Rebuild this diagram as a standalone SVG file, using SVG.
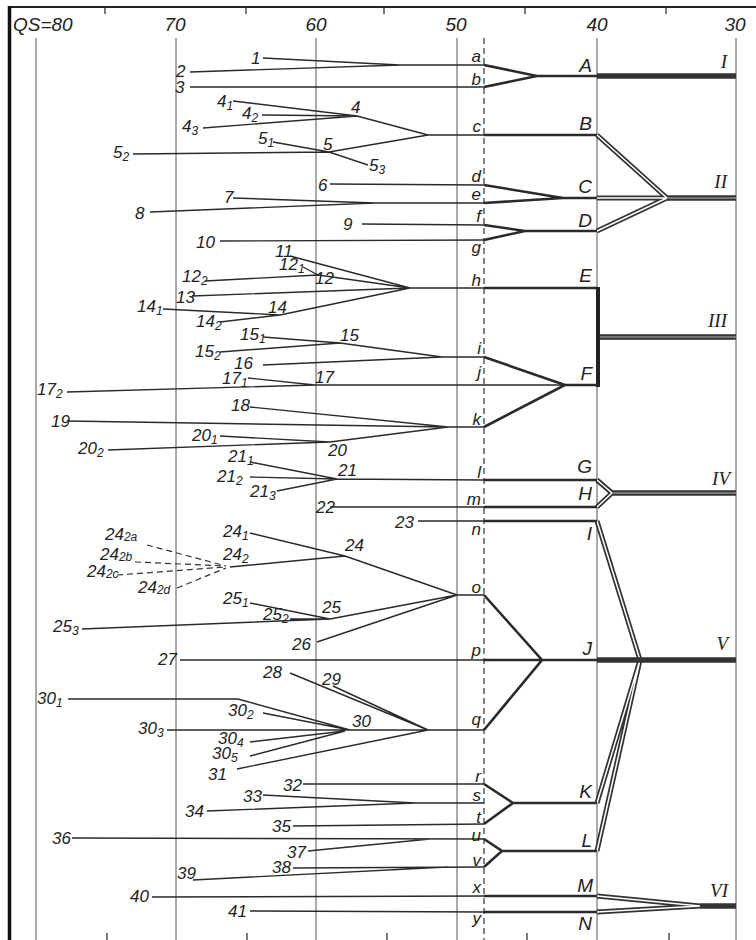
<svg xmlns="http://www.w3.org/2000/svg" width="756" height="940" viewBox="0 0 756 940">
<style>
text{font-family:"Liberation Sans","DejaVu Sans",sans-serif;font-style:italic;fill:#222}
.n{font-size:17px}
.lc{font-size:17px;text-anchor:end}
.uc{font-size:19px;text-anchor:end}
.rn{font-family:"Liberation Serif","DejaVu Serif",serif;font-size:19px;text-anchor:end}
.ax{font-size:19px;text-anchor:middle}
.s{font-size:12px}
.grid{stroke:#555;stroke-width:1;fill:none}
.ln{stroke:#2a2a2a;stroke-width:1.4;fill:none}
.th{stroke:#2a2a2a;stroke-width:2.6;fill:none}
.dl{stroke:#333;stroke-width:5;fill:none}
.dli{stroke:#fff;stroke-width:1.5;fill:none}
.hv{stroke:#333;stroke-width:5.5;fill:none}
.hvi{stroke:#bbb;stroke-width:1;fill:none}
.ds{stroke:#333;stroke-width:1.2;stroke-dasharray:6 4;fill:none}
</style>

<g id="frame">
<line x1="8" y1="7" x2="756" y2="7" stroke="#222" stroke-width="2"/>
<line x1="9.5" y1="6" x2="9.5" y2="940" stroke="#111" stroke-width="3.5"/>
<path d="M105 7V14M246 7V14M384 7V14M525 7V14M666 7V14M107 933V940M247 933V940M387 933V940M527 933V940M669 933V940" stroke="#333" stroke-width="1.3"/>
<path class="grid" d="M36 38V940M176 38V940M316 38V940M457 38V940M597 38V940M736 38V940"/>
<line class="ds" x1="484" y1="38" x2="484" y2="940"/>
<text x="13" y="31" style="font-size:19px">QS=80</text>
<text class="ax" x="175" y="31">70</text>
<text class="ax" x="316" y="31">60</text>
<text class="ax" x="456" y="31">50</text>
<text class="ax" x="597" y="31">40</text>
<text class="ax" x="735" y="31">30</text>
</g>

<g id="connectors">
<path class="dl" d="M597 135L667 198M597 198H667M597 231L667 198M597 480L612 493M597 507L612 493M597 521L640 660M597 803L640 660M597 851L640 660M597 896L700 906M597 912L700 906"/>
<path class="dli" d="M597 135L667 198M597 198H667M597 231L667 198M597 480L612 493M597 507L612 493M597 521L640 660M597 803L640 660M597 851L640 660M597 896L700 906M597 912L700 906"/>
<path class="hv" d="M597 76H736M667 198H736M598 337H736M612 493H736M597 660H736M700 906H736"/>
<path class="hvi" d="M667 198H736M598 337H736M612 493H736"/>
<line x1="598" y1="287" x2="598" y2="387" stroke="#222" stroke-width="4"/>
<path class="th" d="M484 65L537 76L484 87M537 76H597M484 135H597M484 185L563 198L484 203M563 198H597M484 225L525 231L484 240M525 231H597M484 288H597M484 357L565 385L484 427M565 385H598M484 480H597M484 507H597M484 521H597M484 595L542 660L484 730M484 660H597M484 784L513 803L484 824M513 803H597M484 839L502 851L484 867M502 851H597M484 896H597M484 912H597"/>
<path class="ln" d="M263 58L400 65M190 72L400 65M400 65H484M190 87H484"/>
<path class="ln" d="M233 101L357 116M262 115L357 116M203 128L357 116M357 116L428 135M273 142L329 152L368 165M133 154L329 152M329 152L428 135M428 135H484"/>
<path class="ln" d="M330 184L484 185M233 198L375 203M150 212L375 203M375 203H484M362 224L484 225M220 241L484 240"/>
<path class="ln" d="M290 256L410 288M303 267L318 275M205 281L318 275M318 275L410 288M192 296L410 288M163 309L280 315M220 322L280 315M280 315L410 288M410 288H484"/>
<path class="ln" d="M263 337L340 343M220 352L340 343M340 343L442 357M263 365L442 357M442 357H484M248 378L315 385M67 392L315 385M315 385H565M250 407L448 427M67 421L448 427M220 436L330 442M108 450L330 442M330 442L448 427M448 427H484"/>
<path class="ln" d="M250 462L337 479M250 477L337 479M277 491L337 479M337 479L484 480M330 507H484M418 521H484"/>
<path class="ln" d="M250 533L345 556M230 567L345 556M345 556L457 595M250 603L330 619M290 619L330 619M82 629L330 619M330 619L457 595M317 642L457 595M457 595H484M180 660H484"/>
<path class="ds" d="M147 545L226 566M135 562L226 566M117 575L226 567M177 588L226 568"/>
<path class="ln" d="M290 673L428 730M333 686L428 730M68 699H238L350 730M263 713L350 730M167 730H484M250 742L345 731M250 756L345 731M237 769L428 730"/>
<path class="ln" d="M303 784H484M263 795L415 803M207 811L415 803M415 803H484M293 826L484 824M72 838L484 839M308 851L430 839M293 868L484 867M193 880L447 867M152 897L484 896M250 911L484 912"/>
</g>

<g id="sources">
<text class="n" x="251" y="64">1</text>
<text class="n" x="176" y="77">2</text>
<text class="n" x="175" y="93">3</text>
<text class="n" x="217" y="107">4<tspan class="s" dy="3">1</tspan></text>
<text class="n" x="242" y="119">4<tspan class="s" dy="3">2</tspan></text>
<text class="n" x="182" y="132">4<tspan class="s" dy="3">3</tspan></text>
<text class="n" x="351" y="113">4</text>
<text class="n" x="258" y="144">5<tspan class="s" dy="3">1</tspan></text>
<text class="n" x="323" y="150">5</text>
<text class="n" x="113" y="158">5<tspan class="s" dy="3">2</tspan></text>
<text class="n" x="369" y="171">5<tspan class="s" dy="3">3</tspan></text>
<text class="n" x="318" y="191">6</text>
<text class="n" x="224" y="203">7</text>
<text class="n" x="135" y="219">8</text>
<text class="n" x="343" y="230">9</text>
<text class="n" x="196" y="248">10</text>
<text class="n" x="275" y="257">11</text>
<text class="n" x="279" y="270">12<tspan class="s" dy="3">1</tspan></text>
<text class="n" x="315" y="284">12</text>
<text class="n" x="182" y="282">12<tspan class="s" dy="3">2</tspan></text>
<text class="n" x="176" y="303">13</text>
<text class="n" x="137" y="312">14<tspan class="s" dy="3">1</tspan></text>
<text class="n" x="268" y="313">14</text>
<text class="n" x="196" y="327">14<tspan class="s" dy="3">2</tspan></text>
<text class="n" x="240" y="340">15<tspan class="s" dy="3">1</tspan></text>
<text class="n" x="340" y="341">15</text>
<text class="n" x="195" y="357">15<tspan class="s" dy="3">2</tspan></text>
<text class="n" x="234" y="369">16</text>
<text class="n" x="222" y="384">17<tspan class="s" dy="3">1</tspan></text>
<text class="n" x="315" y="383">17</text>
<text class="n" x="37" y="395">17<tspan class="s" dy="3">2</tspan></text>
<text class="n" x="231" y="411">18</text>
<text class="n" x="51" y="427">19</text>
<text class="n" x="192" y="441">20<tspan class="s" dy="3">1</tspan></text>
<text class="n" x="328" y="456">20</text>
<text class="n" x="78" y="454">20<tspan class="s" dy="3">2</tspan></text>
<text class="n" x="228" y="462">21<tspan class="s" dy="3">1</tspan></text>
<text class="n" x="338" y="476">21</text>
<text class="n" x="217" y="482">21<tspan class="s" dy="3">2</tspan></text>
<text class="n" x="250" y="497">21<tspan class="s" dy="3">3</tspan></text>
<text class="n" x="316" y="513">22</text>
<text class="n" x="395" y="528">23</text>
<text class="n" x="223" y="537">24<tspan class="s" dy="3">1</tspan></text>
<text class="n" x="345" y="551">24</text>
<text class="n" x="223" y="560">24<tspan class="s" dy="3">2</tspan></text>
<text class="n" x="105" y="540">24<tspan class="s" dy="1">2a</tspan></text>
<text class="n" x="100" y="560">24<tspan class="s" dy="1">2b</tspan></text>
<text class="n" x="87" y="577">24<tspan class="s" dy="1">2c</tspan></text>
<text class="n" x="138" y="593">24<tspan class="s" dy="1">2d</tspan></text>
<text class="n" x="223" y="604">25<tspan class="s" dy="3">1</tspan></text>
<text class="n" x="322" y="613">25</text>
<text class="n" x="263" y="620">25<tspan class="s" dy="3">2</tspan></text>
<text class="n" x="53" y="632">25<tspan class="s" dy="3">3</tspan></text>
<text class="n" x="292" y="650">26</text>
<text class="n" x="158" y="665">27</text>
<text class="n" x="263" y="678">28</text>
<text class="n" x="322" y="685">29</text>
<text class="n" x="37" y="704">30<tspan class="s" dy="3">1</tspan></text>
<text class="n" x="228" y="716">30<tspan class="s" dy="3">2</tspan></text>
<text class="n" x="352" y="727">30</text>
<text class="n" x="138" y="734">30<tspan class="s" dy="3">3</tspan></text>
<text class="n" x="218" y="744">30<tspan class="s" dy="3">4</tspan></text>
<text class="n" x="212" y="759">30<tspan class="s" dy="3">5</tspan></text>
<text class="n" x="208" y="780">31</text>
<text class="n" x="283" y="791">32</text>
<text class="n" x="243" y="802">33</text>
<text class="n" x="185" y="817">34</text>
<text class="n" x="272" y="832">35</text>
<text class="n" x="52" y="844">36</text>
<text class="n" x="287" y="858">37</text>
<text class="n" x="272" y="873">38</text>
<text class="n" x="177" y="879">39</text>
<text class="n" x="130" y="902">40</text>
<text class="n" x="228" y="917">41</text>
</g>

<g id="rows">
<text class="lc" x="481" y="62">a</text>
<text class="lc" x="481" y="85">b</text>
<text class="lc" x="481" y="132">c</text>
<text class="lc" x="481" y="182">d</text>
<text class="lc" x="481" y="200">e</text>
<text class="lc" x="481" y="222">f</text>
<text class="lc" x="481" y="253">g</text>
<text class="lc" x="481" y="286">h</text>
<text class="lc" x="481" y="354">i</text>
<text class="lc" x="481" y="378">j</text>
<text class="lc" x="481" y="425">k</text>
<text class="lc" x="481" y="478">l</text>
<text class="lc" x="481" y="505">m</text>
<text class="lc" x="481" y="535">n</text>
<text class="lc" x="481" y="593">o</text>
<text class="lc" x="481" y="656">p</text>
<text class="lc" x="481" y="725">q</text>
<text class="lc" x="481" y="782">r</text>
<text class="lc" x="481" y="801">s</text>
<text class="lc" x="481" y="823">t</text>
<text class="lc" x="481" y="841">u</text>
<text class="lc" x="481" y="866">v</text>
<text class="lc" x="481" y="893">x</text>
<text class="lc" x="481" y="924">y</text>
</g>

<g id="nodes">
<text class="uc" x="592" y="72">A</text>
<text class="uc" x="592" y="130">B</text>
<text class="uc" x="592" y="193">C</text>
<text class="uc" x="592" y="227">D</text>
<text class="uc" x="592" y="282">E</text>
<text class="uc" x="592" y="380">F</text>
<text class="uc" x="592" y="473">G</text>
<text class="uc" x="592" y="500">H</text>
<text class="uc" x="592" y="540">I</text>
<text class="uc" x="592" y="655">J</text>
<text class="uc" x="592" y="798">K</text>
<text class="uc" x="592" y="847">L</text>
<text class="uc" x="593" y="892">M</text>
<text class="uc" x="592" y="930">N</text>
</g>

<g id="groups">
<text class="rn" x="727" y="68">I</text>
<text class="rn" x="727" y="188">II</text>
<text class="rn" x="727" y="327">III</text>
<text class="rn" x="730" y="485">IV</text>
<text class="rn" x="728" y="650">V</text>
<text class="rn" x="728" y="897">VI</text>
</g>
</svg>
